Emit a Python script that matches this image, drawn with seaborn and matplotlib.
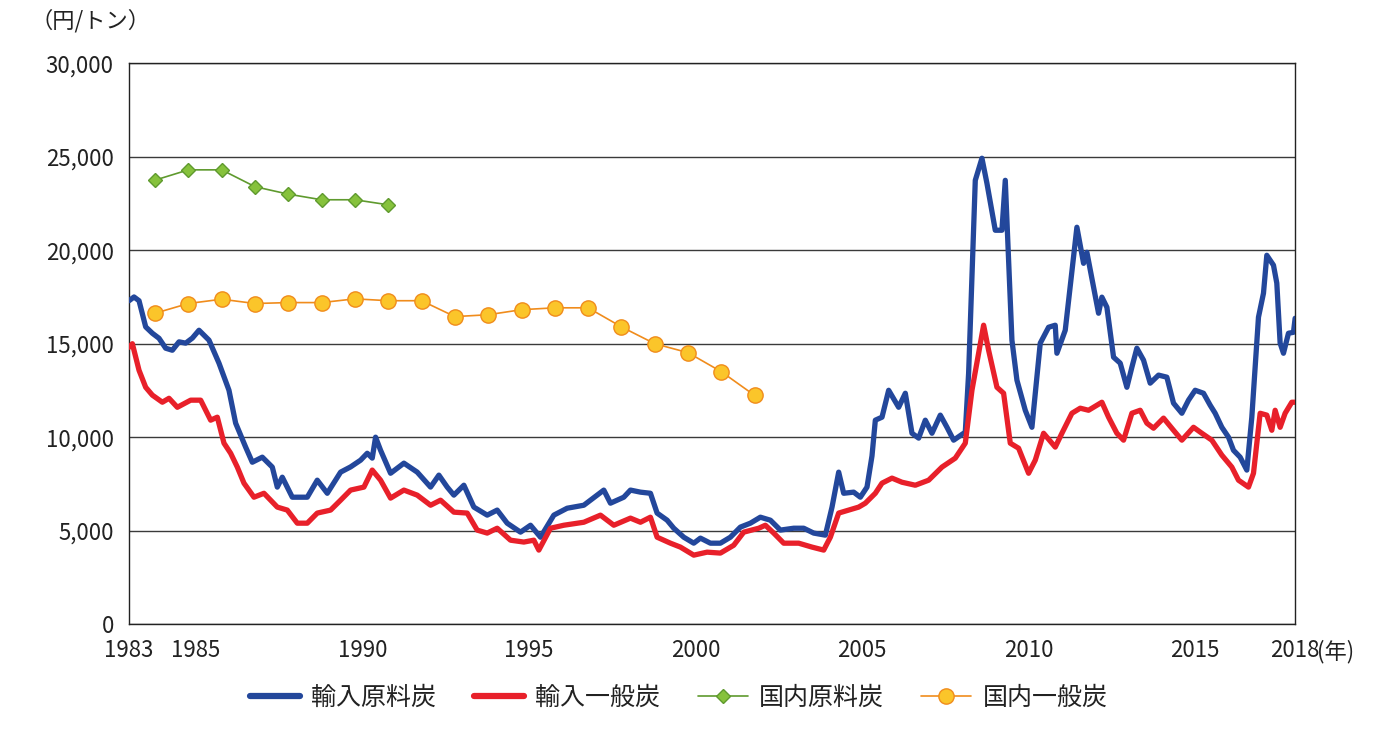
import numpy as np
import pandas as pd
import matplotlib
matplotlib.use('Agg')
import matplotlib.pyplot as plt
import seaborn as sns
from matplotlib.ticker import FuncFormatter
from matplotlib.lines import Line2D

# 輸入原料炭 (monthly-ish readings, year as float)
coking_imp_t = [1983.0, 1983.15, 1983.3, 1983.5, 1983.7, 1983.9, 1984.1, 1984.3, 1984.5, 1984.7,
                1984.9, 1985.1, 1985.4, 1985.7, 1986.0, 1986.2, 1986.5, 1986.7, 1987.0, 1987.3,
                1987.45, 1987.6, 1987.9, 1988.35, 1988.65, 1988.95, 1989.35, 1989.65, 1989.95, 1990.15,
                1990.3, 1990.4, 1990.55, 1990.85, 1991.25, 1991.65, 1992.05, 1992.3, 1992.55, 1992.75,
                1993.05, 1993.35, 1993.75, 1994.05, 1994.35, 1994.75, 1995.05, 1995.35, 1995.75, 1996.15,
                1996.65, 1997.05, 1997.25, 1997.45, 1997.85, 1998.05, 1998.35, 1998.65, 1998.85, 1999.15,
                1999.35, 1999.65, 1999.95, 2000.15, 2000.45, 2000.75, 2001.05, 2001.35, 2001.65, 2001.95,
                2002.25, 2002.55, 2002.95, 2003.25, 2003.55, 2003.9, 2004.1, 2004.3, 2004.45, 2004.75,
                2004.95, 2005.15, 2005.3, 2005.4, 2005.6, 2005.8, 2006.1, 2006.3, 2006.5, 2006.7,
                2006.9, 2007.1, 2007.35, 2007.55, 2007.75, 2008.1, 2008.2, 2008.4, 2008.6, 2008.75,
                2009.0, 2009.2, 2009.3, 2009.5, 2009.65, 2009.9, 2010.1, 2010.35, 2010.6, 2010.8,
                2010.85, 2011.1, 2011.45, 2011.65, 2011.75, 2012.1, 2012.2, 2012.35, 2012.55, 2012.75,
                2012.95, 2013.1, 2013.25, 2013.45, 2013.65, 2013.9, 2014.15, 2014.35, 2014.6, 2014.8,
                2015.0, 2015.25, 2015.45, 2015.6, 2015.8, 2016.0, 2016.15, 2016.35, 2016.55, 2016.7,
                2016.9, 2017.05, 2017.15, 2017.35, 2017.45, 2017.55, 2017.65, 2017.8, 2017.95, 2018.0]
coking_imp = [17300, 17500, 17300, 15900, 15560, 15290, 14760, 14650, 15100, 15030,
              15300, 15720, 15190, 13960, 12510, 10750, 9470, 8660, 8930, 8400,
              7330, 7860, 6790, 6790, 7700, 7000, 8130, 8410, 8770, 9140,
              8880, 10000, 9300, 8070, 8610, 8130, 7330, 7970, 7330, 6900,
              7430, 6260, 5830, 6100, 5400, 4920, 5290, 4650, 5830, 6200,
              6360, 6900, 7170, 6470, 6790, 7170, 7060, 7000, 5940, 5560,
              5130, 4650, 4330, 4600, 4330, 4330, 4650, 5190, 5400, 5720,
              5560, 5030, 5130, 5130, 4870, 4760, 6260, 8130, 7000, 7060,
              6790, 7330, 9000, 10910, 11070, 12510, 11600, 12350, 10210, 9950,
              10910, 10210, 11180, 10530, 9840, 10270, 13420, 23740, 24920, 23580,
              21070, 21070, 23740, 15190, 13050, 11440, 10530, 15030, 15880, 15990,
              14490, 15720, 21230, 19300, 19890, 16630, 17490, 16950, 14280, 13960,
              12670, 13740, 14760, 14120, 12890, 13320, 13210, 11820, 11280, 11980,
              12510, 12350, 11710, 11280, 10530, 10000, 9300, 8930, 8240, 11070,
              16420, 17700, 19730, 19200, 18240, 15030, 14490, 15560, 15610, 16360]

# 輸入一般炭
steam_imp_t = [1983.0, 1983.1, 1983.3, 1983.5, 1983.7, 1984.0, 1984.2, 1984.45, 1984.85, 1985.15,
               1985.45, 1985.65, 1985.85, 1986.05, 1986.25, 1986.45, 1986.75, 1987.05, 1987.45, 1987.75,
               1988.05, 1988.35, 1988.65, 1989.05, 1989.35, 1989.65, 1990.05, 1990.3, 1990.55, 1990.85,
               1991.25, 1991.65, 1992.05, 1992.35, 1992.75, 1993.15, 1993.45, 1993.75, 1994.05, 1994.45,
               1994.85, 1995.15, 1995.3, 1995.65, 1996.05, 1996.65, 1997.15, 1997.55, 1998.05, 1998.35,
               1998.65, 1998.85, 1999.25, 1999.55, 1999.95, 2000.35, 2000.75, 2001.15, 2001.45, 2001.9,
               2002.1, 2002.35, 2002.65, 2003.1, 2003.5, 2003.85, 2004.05, 2004.3, 2004.6, 2004.9,
               2005.1, 2005.4, 2005.6, 2005.9, 2006.2, 2006.6, 2007.0, 2007.4, 2007.8, 2008.1,
               2008.3, 2008.5, 2008.65, 2008.8, 2009.05, 2009.25, 2009.45, 2009.7, 2010.0, 2010.2,
               2010.45, 2010.8, 2011.0, 2011.3, 2011.55, 2011.8, 2012.2, 2012.4, 2012.65, 2012.85,
               2013.1, 2013.35, 2013.55, 2013.75, 2014.05, 2014.35, 2014.6, 2014.95, 2015.2, 2015.5,
               2015.8, 2016.1, 2016.3, 2016.6, 2016.75, 2016.95, 2017.15, 2017.3, 2017.4, 2017.55,
               2017.7, 2017.9, 2018.0]
steam_imp = [14810, 15000, 13580, 12670, 12250, 11870, 12080, 11600, 11980, 11980,
             10910, 11070, 9680, 9140, 8400, 7540, 6790, 7000, 6260, 6100,
             5400, 5400, 5940, 6100, 6630, 7170, 7330, 8240, 7700, 6740,
             7170, 6900, 6360, 6630, 5990, 5940, 5030, 4870, 5130, 4490,
             4390, 4490, 3960, 5130, 5290, 5450, 5830, 5290, 5670, 5450,
             5720, 4650, 4330, 4120, 3690, 3850, 3800, 4220, 4920, 5130,
             5290, 4870, 4330, 4330, 4120, 3960, 4650, 5940, 6100, 6260,
             6470, 7000, 7540, 7810, 7590, 7430, 7700, 8400, 8880, 9680,
             12510, 14490, 15990, 14650, 12670, 12350, 9680, 9410, 8070, 8770,
             10210, 9470, 10210, 11280, 11550, 11440, 11870, 11070, 10210, 9840,
             11280, 11440, 10750, 10480, 11020, 10370, 9840, 10530, 10210, 9840,
             9040, 8400, 7700, 7330, 8070, 11280, 11180, 10370, 11440, 10530,
             11280, 11870, 11870]

# 国内原料炭 / 国内一般炭 (fiscal years)
coking_dom_fy = [1983, 1984, 1985, 1986, 1987, 1988, 1989, 1990]
coking_dom = [23750, 24300, 24300, 23400, 23000, 22700, 22700, 22430]
steam_dom_fy = list(range(1983, 2002))
steam_dom = [16630, 17150, 17380, 17150, 17200, 17200, 17400, 17300, 17300, 16450,
             16550, 16820, 16920, 16920, 15900, 15000, 14520, 13500, 12230]

year_ticks = list(range(1983, 2019))
year_labels = {1983: '1983', 1985: '1985', 1990: '1990', 1995: '1995', 2000: '2000',
               2005: '2005', 2010: '2010', 2015: '2015', 2018: '2018'}

blue = '#23479b'
red = '#e8202a'
green_line = '#5f9a2e'
green_face = '#86c23c'
orange_line = '#f08c1c'
orange_face = '#fbc52a'
text_c = '#222222'

sns.set_theme(style='white')
plt.rcParams['font.family'] = ['Noto Sans CJK JP', 'DejaVu Sans']

fig = plt.figure(figsize=(13.8, 7.36), dpi=100)
ax = fig.add_axes([0.0935, 0.152, 0.845, 0.762])

sns.lineplot(x=coking_imp_t, y=coking_imp, ax=ax, color=blue, linewidth=3.8, zorder=3)
sns.lineplot(x=steam_imp_t, y=steam_imp, ax=ax, color=red, linewidth=3.8, zorder=3)

fy_offset = 0.78
sns.lineplot(x=np.array(coking_dom_fy) + fy_offset, y=coking_dom, ax=ax, color=green_line,
             linewidth=1.2, marker='D', markersize=7, markerfacecolor=green_face,
             markeredgecolor=green_line, markeredgewidth=1, zorder=4)
sns.lineplot(x=np.array(steam_dom_fy) + fy_offset, y=steam_dom, ax=ax, color=orange_line,
             linewidth=1.2, marker='o', markersize=11, markerfacecolor=orange_face,
             markeredgecolor=orange_line, markeredgewidth=1, zorder=4)

ax.set_xlim(1983, 2018)
ax.set_ylim(0, 30000)
ax.set_yticks(range(0, 30001, 5000))
ax.yaxis.set_major_formatter(FuncFormatter(lambda v, p: f'{int(v):,}'))
ax.set_xticks(year_ticks)
ax.set_xticklabels([year_labels.get(y, '') for y in year_ticks])
ax.grid(axis='y', color='#3a3a3a', linewidth=1.0)
ax.set_axisbelow(True)
for s in ax.spines.values():
    s.set_color(text_c)
    s.set_linewidth(1.0)
ax.tick_params(axis='both', which='major', direction='out', length=6, width=1,
               color=text_c, labelsize=16, labelcolor=text_c, pad=5)
ax.set_xlabel('')
ax.set_ylabel('')

# 単位
fig.text(0.022, 0.972, '（円/トン）', fontsize=16, color=text_c, va='center', ha='left')
ax.annotate('(年)', xy=(2018, 0), xycoords='data', xytext=(16, -20),
            textcoords='offset points', fontsize=16, color=text_c, ha='left', va='center')

handles = [
    Line2D([], [], color=blue, linewidth=4.5),
    Line2D([], [], color=red, linewidth=4.5),
    Line2D([], [], color=green_line, linewidth=1.2, marker='D', markersize=7,
           markerfacecolor=green_face, markeredgecolor=green_line),
    Line2D([], [], color=orange_line, linewidth=1.2, marker='o', markersize=11,
           markerfacecolor=orange_face, markeredgecolor=orange_line),
]
labels = ['輸入原料炭', '輸入一般炭', '国内原料炭', '国内一般炭']
fig.legend(handles, labels, loc='center', bbox_to_anchor=(0.492, 0.052), ncol=4,
           frameon=False, fontsize=18, handlelength=2.0, columnspacing=1.5,
           handletextpad=0.45, labelcolor=text_c)

fig.savefig('out.png', dpi=100)
